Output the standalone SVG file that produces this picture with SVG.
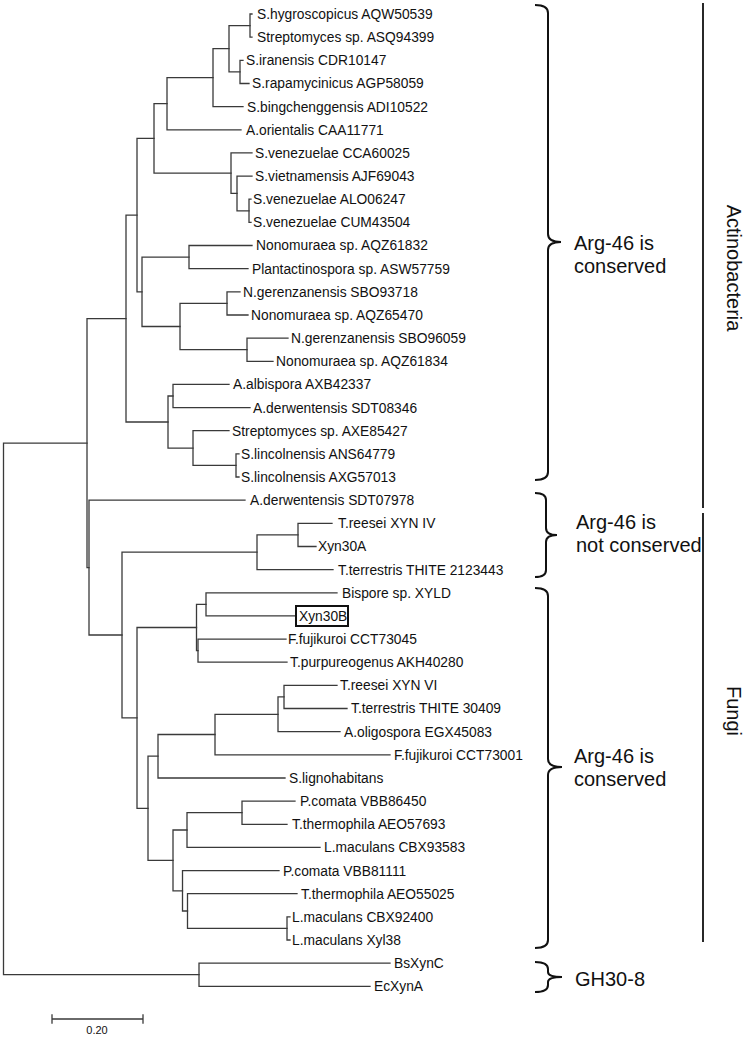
<svg xmlns="http://www.w3.org/2000/svg" width="745" height="1037" viewBox="0 0 745 1037">
<style>
.br{fill:none;stroke:#3a3a3a;stroke-width:1.3;stroke-linecap:square}
.lf{font-family:"Liberation Sans",Arial,sans-serif;font-size:13.8px;fill:#111;white-space:pre}
.bt{font-family:"Liberation Sans",Arial,sans-serif;font-size:20px;fill:#111}
.brace{fill:none;stroke:#111;stroke-width:2}
.side{fill:none;stroke:#111;stroke-width:1.8}
</style>
<rect width="745" height="1037" fill="#fff"/>
<g id="connectors" class="br">
<path d="M252,14 H250 V37.2 H252"/>
<path d="M243,60.3 H240 V83.5 H249"/>
<path d="M250,25.6 H229 V71.9 H240"/>
<path d="M229,48.7 H213 V106.6 H243"/>
<path d="M213,77.6 H167 V129.8 H241"/>
<path d="M251,199.2 H249 V222.4 H251"/>
<path d="M252,176.1 H237 V210.8 H249"/>
<path d="M252,152.9 H231 V193.4 H237"/>
<path d="M167,103.7 H154 V173.2 H231"/>
<path d="M252,245.5 H189 V268.7 H248"/>
<path d="M240,291.8 H227 V315 H248"/>
<path d="M288,338.1 H247 V361.3 H273"/>
<path d="M227,303.4 H180 V349.7 H247"/>
<path d="M189,257.1 H142 V326.5 H180"/>
<path d="M154,138.4 H137 V291.8 H142"/>
<path d="M229,384.4 H173 V407.6 H250"/>
<path d="M239,453.9 H236 V477 H239"/>
<path d="M229,430.7 H193 V465.4 H236"/>
<path d="M173,396 H168 V448.1 H193"/>
<path d="M137,215.1 H126 V422 H168"/>
<path d="M332,523.3 H298 V546.5 H316"/>
<path d="M298,534.9 H257 V569.6 H333"/>
<path d="M337,592.8 H206 V615.9 H296"/>
<path d="M286,639.1 H198 V662.2 H287"/>
<path d="M206,604.3 H196.5 V650.6 H198"/>
<path d="M337,685.4 H284 V708.5 H347"/>
<path d="M284,696.9 H278 V731.7 H340"/>
<path d="M278,714.3 H215 V754.8 H390"/>
<path d="M215,734.5 H158 V778 H285"/>
<path d="M295,801.1 H242 V824.3 H287"/>
<path d="M242,812.7 H187 V847.4 H320"/>
<path d="M290,916.9 H287 V940 H290"/>
<path d="M297,893.7 H187.5 V928.4 H287"/>
<path d="M279,870.6 H182.5 V911 H187.5"/>
<path d="M187,830 H173 V890.8 H182.5"/>
<path d="M158,756.2 H148 V860.4 H173"/>
<path d="M196.5,627.5 H137 V808.3 H148"/>
<path d="M257,552.2 H122 V717.9 H137"/>
<path d="M245,500.2 H89 V635 H122"/>
<path d="M126,318.6 H87 V567.6 H89"/>
<path d="M390,963.2 H199 V986.3 H370"/>
<path d="M87,443.1 H3.5 V974.7 H199"/>
</g>
<g id="leaves" class="lf" xml:space="preserve">
<g id="leaf1"><text x="257" y="18.9">S.hygroscopicus AQW50539</text></g>
<g id="leaf2"><text x="257" y="42.1">Streptomyces sp. ASQ94399</text></g>
<g id="leaf3"><text x="246" y="65.2">S.iranensis CDR10147</text></g>
<g id="leaf4"><text x="252" y="88.4">S.rapamycinicus AGP58059</text></g>
<g id="leaf5"><text x="247" y="111.5">S.bingchenggensis ADI10522</text></g>
<g id="leaf6"><text x="246" y="134.7">A.orientalis CAA11771</text></g>
<g id="leaf7"><text x="255" y="157.8">S.venezuelae CCA60025</text></g>
<g id="leaf8"><text x="255" y="181">S.vietnamensis AJF69043</text></g>
<g id="leaf9"><text x="253" y="204.1">S.venezuelae ALO06247</text></g>
<g id="leaf10"><text x="253" y="227.3">S.venezuelae CUM43504</text></g>
<g id="leaf11"><text x="256" y="250.4">Nonomuraea sp. AQZ61832</text></g>
<g id="leaf12"><text x="252" y="273.6">Plantactinospora sp. ASW57759</text></g>
<g id="leaf13"><text x="243" y="296.7">N.gerenzanensis SBO93718</text></g>
<g id="leaf14"><text x="251" y="319.9">Nonomuraea sp. AQZ65470</text></g>
<g id="leaf15"><text x="291" y="343">N.gerenzanensis SBO96059</text></g>
<g id="leaf16"><text x="276" y="366.2">Nonomuraea sp. AQZ61834</text></g>
<g id="leaf17"><text x="233" y="389.3">A.albispora AXB42337</text></g>
<g id="leaf18"><text x="253" y="412.5">A.derwentensis SDT08346</text></g>
<g id="leaf19"><text x="232" y="435.6">Streptomyces sp. AXE85427</text></g>
<g id="leaf20"><text x="241" y="458.8">S.lincolnensis ANS64779</text></g>
<g id="leaf21"><text x="241" y="481.9">S.lincolnensis AXG57013</text></g>
<g id="leaf22"><text x="250" y="505.1">A.derwentensis SDT07978</text></g>
<g id="leaf23"><text x="338" y="528.2">T.reesei XYN IV</text></g>
<g id="leaf24"><text x="318" y="551.4">Xyn30A</text></g>
<g id="leaf25"><text x="338" y="574.5">T.terrestris  THITE  2123443</text></g>
<g id="leaf26"><text x="342" y="597.7">Bispore sp. XYLD</text></g>
<g id="leaf27"><rect x="296" y="606" width="52" height="20" fill="none" stroke="#111" stroke-width="2"/><text x="299" y="620.8">Xyn30B</text></g>
<g id="leaf28"><text x="288" y="644">F.fujikuroi  CCT73045</text></g>
<g id="leaf29"><text x="290" y="667.1">T.purpureogenus  AKH40280</text></g>
<g id="leaf30"><text x="340" y="690.3">T.reesei XYN VI</text></g>
<g id="leaf31"><text x="351" y="713.4">T.terrestris  THITE  30409</text></g>
<g id="leaf32"><text x="344" y="736.6">A.oligospora EGX45083</text></g>
<g id="leaf33"><text x="394" y="759.7">F.fujikuroi  CCT73001</text></g>
<g id="leaf34"><text x="289" y="782.9">S.lignohabitans</text></g>
<g id="leaf35"><text x="300" y="806">P.comata VBB86450</text></g>
<g id="leaf36"><text x="292" y="829.2">T.thermophila  AEO57693</text></g>
<g id="leaf37"><text x="324" y="852.3">L.maculans CBX93583</text></g>
<g id="leaf38"><text x="283" y="875.5">P.comata VBB81111</text></g>
<g id="leaf39"><text x="301" y="898.6">T.thermophila  AEO55025</text></g>
<g id="leaf40"><text x="292" y="921.8">L.maculans CBX92400</text></g>
<g id="leaf41"><text x="292" y="944.9">L.maculans Xyl38</text></g>
<g id="leaf42"><text x="394" y="968.1">BsXynC</text></g>
<g id="leaf43"><text x="374" y="991.2">EcXynA</text></g>
</g>
<g id="brace-actino-conserved">
<path class="brace" d="M535,5 Q548,5 548,13 V234 Q548,242 561,242 Q548,242 548,250 V472 Q548,480 535,480"/>
<text class="bt" x="574" y="250">Arg-46 is</text>
<text class="bt" x="574" y="273">conserved</text>
</g>
<g id="brace-not-conserved">
<path class="brace" d="M535,493 Q546,493 546,500 V528 Q546,535 557,535 Q546,535 546,542 V570 Q546,577 535,577"/>
<text class="bt" x="576" y="529">Arg-46 is</text>
<text class="bt" x="576" y="552">not conserved</text>
</g>
<g id="brace-fungi-conserved">
<path class="brace" d="M535,588 Q548,588 548,596 V759 Q548,767 562,767 Q548,767 548,775 V940 Q548,948 535,948"/>
<text class="bt" x="574" y="763">Arg-46 is</text>
<text class="bt" x="574" y="786">conserved</text>
</g>
<g id="brace-gh30-8">
<path class="brace" d="M535,962 Q548,962 548,969 V972 Q548,977 562,977 Q548,977 548,982 V985 Q548,992 535,992"/>
<text class="bt" x="575" y="986">GH30-8</text>
</g>
<g id="group-actinobacteria">
<path class="side" d="M703,3 V508"/>
<text class="bt" text-anchor="middle" transform="translate(727,268) rotate(90)">Actinobacteria</text>
</g>
<g id="group-fungi">
<path class="side" d="M703,513 V942"/>
<text class="bt" text-anchor="middle" transform="translate(727,711) rotate(90)">Fungi</text>
</g>
<g id="scale-bar">
<path class="br" d="M52,1019 H143 M52,1015 V1023 M143,1015 V1023"/>
<text x="97" y="1034" text-anchor="middle" font-family="Liberation Sans, Arial, sans-serif" font-size="11" fill="#111">0.20</text>
</g>
</svg>
